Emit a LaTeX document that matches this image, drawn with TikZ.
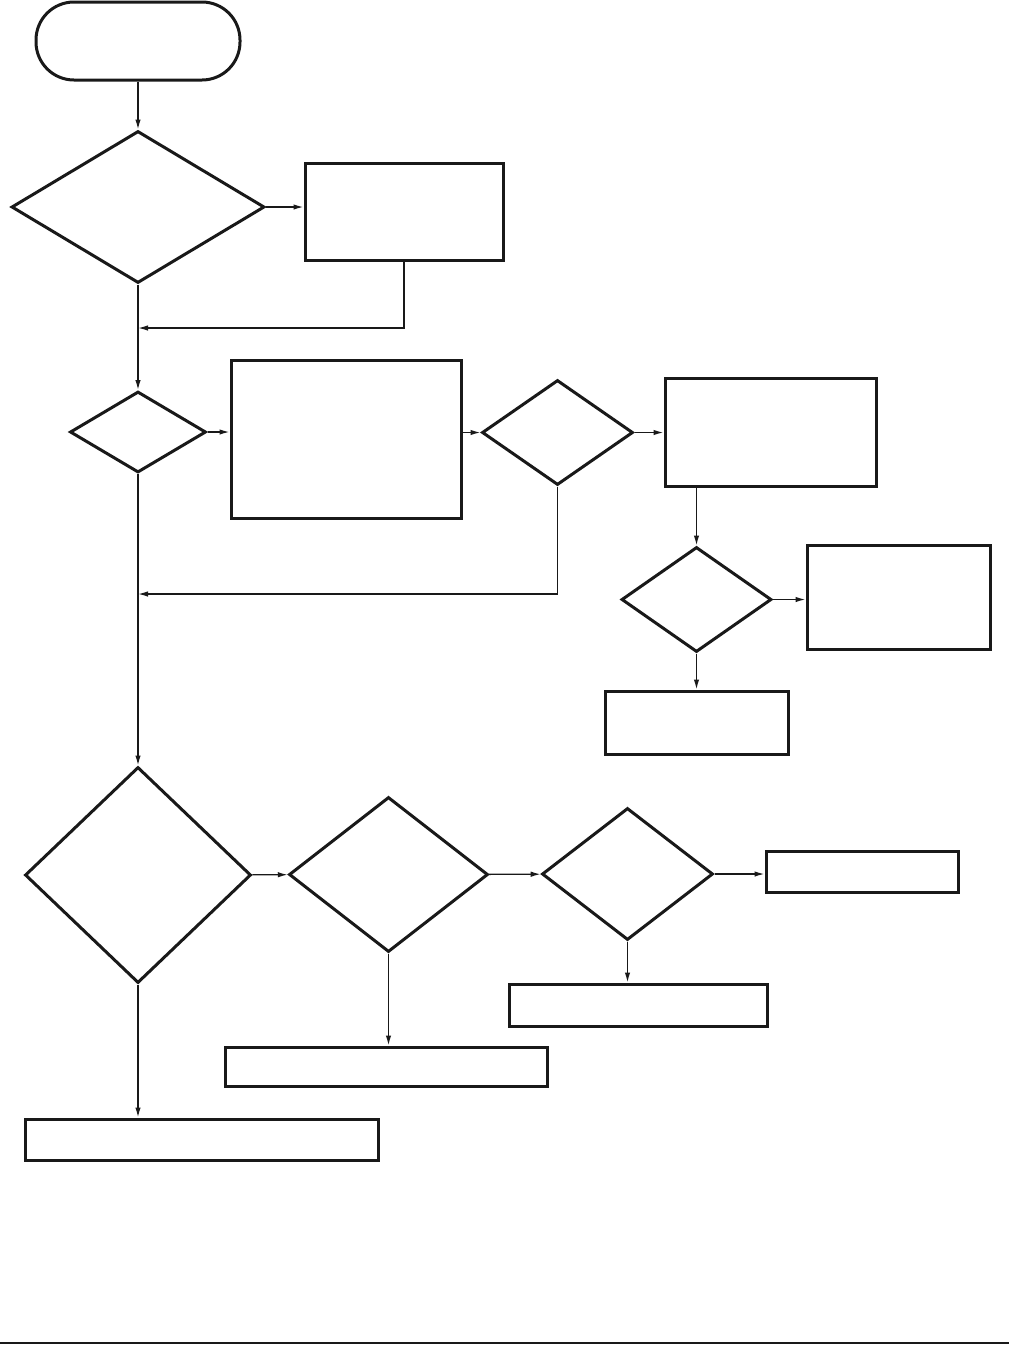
\documentclass[tikz,border=0pt]{standalone}
\usetikzlibrary{shapes.geometric,arrows.meta}
\begin{document}
\begin{tikzpicture}[x=1pt,y=-1pt,
  boxshape/.style={draw=black!90,line width=3pt,rectangle,inner sep=0pt},
  dia/.style={draw=black!90,line width=3pt,diamond,inner sep=0pt},
  term/.style={draw=black!90,line width=3pt,rectangle,rounded corners=38pt,inner sep=0pt},
  conn/.style={draw=black!90,line width=1.4pt,-{Latex[length=10pt,width=5.5pt]}},
  plain/.style={draw=black!90,line width=1.4pt}]
\useasboundingbox (0,0) rectangle (1009,1345);
% nodes
\node[term,minimum width=204pt,minimum height=78pt] (t) at (138,41) {};
\node[dia,minimum width=253pt,minimum height=152pt] (d1) at (138,207) {};
\node[boxshape,minimum width=198pt,minimum height=97pt] (b1) at (404,211.5) {};
\node[dia,minimum width=136pt,minimum height=81pt] (d2) at (138,432) {};
\node[boxshape,minimum width=230pt,minimum height=158pt] (b2) at (346,439) {};
\node[dia,minimum width=151pt,minimum height=105pt] (d3) at (557.5,432.5) {};
\node[boxshape,minimum width=211pt,minimum height=108pt] (b3) at (770.5,432) {};
\node[dia,minimum width=150pt,minimum height=105pt] (d5) at (696.5,599.5) {};
\node[boxshape,minimum width=183pt,minimum height=104pt] (b4) at (898.5,597) {};
\node[boxshape,minimum width=183pt,minimum height=63pt] (b5) at (696.5,722.5) {};
\node[dia,minimum width=226pt,minimum height=216pt] (d4) at (138,875) {};
\node[dia,minimum width=199pt,minimum height=155pt] (d6) at (388.5,874.5) {};
\node[dia,minimum width=171pt,minimum height=132pt] (d7) at (627.5,874) {};
\node[boxshape,minimum width=192pt,minimum height=41pt] (b6) at (862,871.5) {};
\node[boxshape,minimum width=258pt,minimum height=42pt] (b7) at (638,1005) {};
\node[boxshape,minimum width=322pt,minimum height=39pt] (b8) at (386,1066.5) {};
\node[boxshape,minimum width=353pt,minimum height=41pt] (b9) at (201.5,1139.5) {};
\coordinate (j1) at (138,328);
\coordinate (j2) at (138,594);
% connectors
\draw[conn] (t) -- (d1);
\draw[conn] (d1.east) -- (d1.east -| b1.west);
\draw[conn] (b1.south) |- (j1);
\draw[conn] (d1) -- (d2);
\draw[conn] (d2.east) -- (d2.east -| b2.west);
\draw[conn] (d3.west -| b2.east) -- (d3.west);
\draw[conn] (d3.east) -- (d3.east -| b3.west);
\draw[conn] (d3.south) |- (j2);
\draw[conn] (d2) -- (d4);
\draw[conn] (d5.north |- b3.south) -- (d5.north);
\draw[conn] (d5.east) -- (d5.east -| b4.west);
\draw[conn] (d5) -- (b5);
\draw[conn] (d4) -- (d6);
\draw[conn] (d6) -- (d7);
\draw[conn] (d7.east) -- (d7.east -| b6.west);
\draw[conn] (d7.south) -- (d7.south |- b7.north);
\draw[conn] (d6.south) -- (d6.south |- b8.north);
\draw[conn] (d4.south) -- (d4.south |- b9.north);
% bottom rule
\draw[draw=black!90,line width=2pt] (0,1343) -- (1009,1343);
\end{tikzpicture}
\end{document}
